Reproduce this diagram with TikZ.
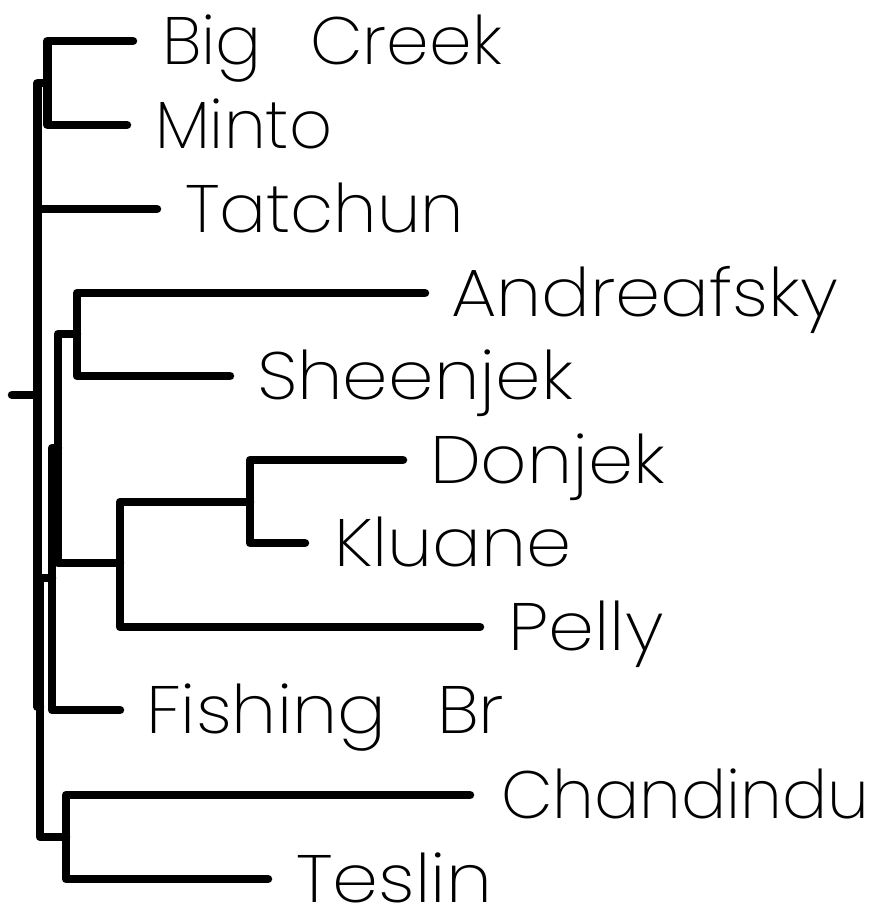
\documentclass[tikz,border=0pt]{standalone}
\usepackage{graphicx}
\usepackage{fontspec}
\newfontfamily\labfont{Poppins}[UprightFont={* ExtraLight}, WordSpace=2.5]
\newcommand{\wlab}[2]{\scalebox{#1}[1]{#2}}
\tikzset{
  branch/.style={line width=8.5pt, line cap=round, line join=round},
  leaf/.style={anchor=base west, inner sep=0pt, outer sep=0pt, font=\labfont\fontsize{67}{70}\selectfont}
}
\begin{document}
\begin{tikzpicture}[x=1pt,y=-1pt]
\useasboundingbox (0,0) rectangle (878,910);
% internal nodes
\coordinate (rt) at (12,395);
\coordinate (r) at (37.5,395);
\coordinate (bm) at (47.5,83);
\coordinate (z) at (40,707);
\coordinate (xc) at (52,578);
\coordinate (yc) at (58,448);
\coordinate (as) at (77,334);
\coordinate (dkp) at (120,563);
\coordinate (dk) at (250,502);
\coordinate (ct) at (66,837);
% leaf ends
\coordinate (lBC) at (133,41);
\coordinate (lMi) at (127,125);
\coordinate (lTa) at (157,209);
\coordinate (lAn) at (425,293);
\coordinate (lSh) at (230,376);
\coordinate (lDo) at (403,460);
\coordinate (lKl) at (305,543);
\coordinate (lPe) at (480,627);
\coordinate (lFi) at (120,710);
\coordinate (lCh) at (470,795);
\coordinate (lTe) at (268,879);
% branches
\draw[branch] (rt) -- (r);
\draw[branch] (r) |- (bm);
\draw[branch] (r) |- (lTa);
\draw[branch] (r) |- (z);
\draw[branch] (bm) |- (lBC);
\draw[branch] (bm) |- (lMi);
\draw[branch] (z) |- (xc);
\draw[branch] (z) |- (ct);
\draw[branch] (xc) |- (yc);
\draw[branch] (xc) |- (lFi);
\draw[branch] (yc) |- (as);
\draw[branch] (yc) |- (dkp);
\draw[branch] (as) |- (lAn);
\draw[branch] (as) |- (lSh);
\draw[branch] (dkp) |- (dk);
\draw[branch] (dkp) |- (lPe);
\draw[branch] (dk) |- (lDo);
\draw[branch] (dk) |- (lKl);
\draw[branch] (ct) |- (lCh);
\draw[branch] (ct) |- (lTe);
% labels
\node[leaf] (tBC) at ([xshift=29pt,yshift=-23pt]lBC) {\wlab{1.02}{Big Creek}};
\node[leaf] (tMi) at ([xshift=28pt,yshift=-23pt]lMi) {\wlab{1.0}{Minto}};
\node[leaf] (tTa) at ([xshift=28pt,yshift=-23pt]lTa) {\wlab{1.04}{Tatchun}};
\node[leaf] (tAn) at ([xshift=26pt,yshift=-23pt]lAn) {\wlab{1.08}{Andreafsky}};
\node[leaf] (tSh) at ([xshift=27pt,yshift=-23pt]lSh) {\wlab{1.09}{Sheenjek}};
\node[leaf] (tDo) at ([xshift=27pt,yshift=-23pt]lDo) {\wlab{1.08}{Donjek}};
\node[leaf] (tKl) at ([xshift=29pt,yshift=-23pt]lKl) {\wlab{1.08}{Kluane}};
\node[leaf] (tPe) at ([xshift=28pt,yshift=-23pt]lPe) {\wlab{1.1}{Pelly}};
\node[leaf] (tFi) at ([xshift=26pt,yshift=-23pt]lFi) {\wlab{1.08}{Fishing Br}};
\node[leaf] (tCh) at ([xshift=31pt,yshift=-23pt]lCh) {\wlab{1.0}{Chandindu}};
\node[leaf] (tTe) at ([xshift=28pt,yshift=-23pt]lTe) {\wlab{1.1}{Teslin}};
\end{tikzpicture}
\end{document}
